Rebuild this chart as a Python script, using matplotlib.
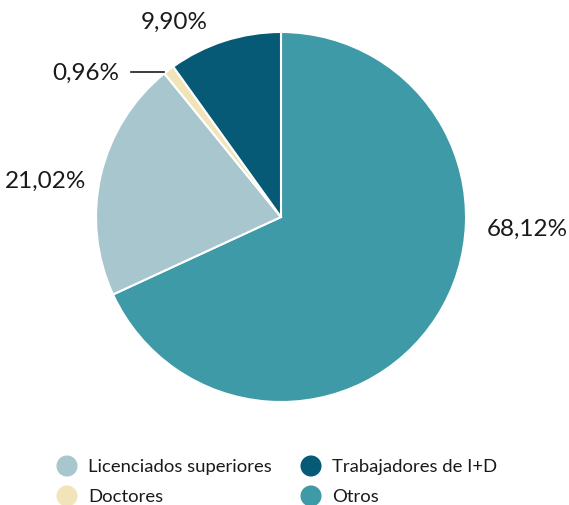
import matplotlib
matplotlib.use("Agg")
import matplotlib.pyplot as plt

categories = ["Otros", "Licenciados superiores", "Doctores", "Trabajadores de I+D"]
values = [68.12, 21.02, 0.96, 9.90]
value_labels = ["68,12%", "21,02%", "0,96%", "9,90%"]
colors = ["#3d9aa6", "#a8c6ce", "#f0e4b8", "#065a76"]

plt.rcParams['font.family'] = ['Lato', 'DejaVu Sans']

fig = plt.figure(figsize=(5.69, 5.06), dpi=100)
ax = fig.add_axes([0, 0, 1, 1])

cx, cy, r = 281, 506 - 218, 185
ax.pie(values, colors=colors, startangle=90, counterclock=False,
       center=(cx, cy), radius=r, frame=True,
       wedgeprops=dict(edgecolor='white', linewidth=1.5))
ax.set_xlim(0, 569)
ax.set_ylim(0, 506)
ax.set_aspect('equal')
ax.axis('off')

fs = 17.5
tc = '#1a1a1a'
ax.text(527, 506 - 229, value_labels[0], ha='center', va='center', fontsize=fs, color=tc)
ax.text(46, 506 - 181, value_labels[1], ha='center', va='center', fontsize=fs, color=tc)
ax.text(86, 506 - 73, value_labels[2], ha='center', va='center', fontsize=fs, color=tc)
ax.text(174, 506 - 22, value_labels[3], ha='center', va='center', fontsize=fs, color=tc)
ax.plot([131, 164], [506 - 73, 506 - 73], color=tc, lw=1.2)

# legend (manual, two columns)
order = [1, 3, 2, 0]
pos = [(67, 467), (311, 467), (67, 497), (311, 497)]
for i, (x, y) in zip(order, pos):
    ax.scatter([x], [506 - y], s=230, color=colors[i], edgecolors='none', clip_on=False)
    ax.text(x + 21, 506 - y, categories[i], ha='left', va='center', fontsize=13.3, color=tc)

fig.savefig("out.png", dpi=100, facecolor='white')
